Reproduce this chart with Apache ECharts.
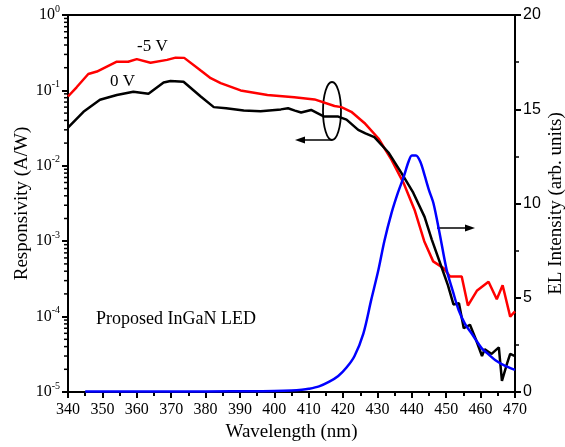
<!DOCTYPE html>
<html>
<head>
<meta charset="utf-8">
<script src="https://cdn.jsdelivr.net/npm/echarts@6/dist/echarts.min.js"></script>
<style>
html,body{margin:0;padding:0;background:#fff;}
#chart{width:565px;height:447px;}
</style>
</head>
<body>
<div id="chart"></div>
<script>
// wavelength (nm) / responsivity (A/W), 0 V bias
var wl0 = [340, 344.5, 349.3, 354.2, 359, 363.4, 367.8, 369.8, 373.6, 378.6, 382.4, 386, 391.1, 396, 401.9, 404, 406, 407.8, 410.7, 414.5, 418.6, 421, 424.4, 426.5, 429.1, 433.2, 437, 440.4, 443.7, 445.8, 449.6, 450.5, 452.1, 453.7, 455.1, 456.9, 458.6, 460.4, 461.2, 463.2, 465.3, 466.2, 467.7, 468.6, 470];
var resp0 = [0.032, 0.052, 0.075, 0.087, 0.096, 0.09, 0.127, 0.133, 0.13, 0.083, 0.06, 0.058, 0.054, 0.053, 0.056, 0.058, 0.054, 0.051, 0.055, 0.045, 0.045, 0.041, 0.030, 0.027, 0.024, 0.015, 0.008, 0.0044, 0.0021, 0.00105, 0.00034, 0.00026, 0.000145, 0.00015, 0.00007, 0.000078, 0.00005, 0.00003, 0.000037, 0.000032, 0.000039, 0.000014, 0.000024, 0.000032, 0.00003];

// -5 V bias
var wl5 = [340, 342.5, 345.9, 348.4, 354.2, 357.5, 360, 364, 368.8, 371.3, 373.8, 378.6, 381.5, 384.4, 390.2, 398, 405.8, 411.7, 417.5, 419.5, 422.4, 426.2, 430.3, 434.1, 437.6, 440.8, 443.6, 446.2, 449.2, 451.1, 454.5, 456.3, 458.9, 462.3, 464.7, 466.4, 468.6, 470];
var resp5 = [0.083, 0.11, 0.165, 0.178, 0.24, 0.24, 0.26, 0.233, 0.254, 0.272, 0.27, 0.183, 0.145, 0.125, 0.1, 0.087, 0.081, 0.076, 0.062, 0.06, 0.052, 0.037, 0.023, 0.012, 0.0059, 0.0026, 0.001, 0.00054, 0.00044, 0.00034, 0.00034, 0.00014, 0.00022, 0.00029, 0.00017, 0.00026, 0.0001, 0.000117];

// EL spectrum (arb. units)
var wlEL = [345, 360, 380, 395, 400, 405, 408, 410, 413, 416, 418.6, 421, 423.3, 425.9, 428.2, 430.3, 432, 434.1, 436, 437.6, 439, 440, 441.2, 442.5, 443.7, 445, 446.3, 448.1, 450.1, 452, 453.6, 455.5, 457.4, 460.4, 462.3, 464.2, 467, 470];
var el = [0.03, 0.03, 0.03, 0.04, 0.05, 0.08, 0.12, 0.17, 0.3, 0.55, 0.85, 1.3, 1.9, 3.1, 4.9, 6.5, 8.0, 9.5, 10.6, 11.4, 12.2, 12.55, 12.55, 12.2, 11.5, 10.7, 10.0, 8.4, 6.5, 5.3, 4.35, 3.6, 3.1, 2.3, 2.0, 1.7, 1.4, 1.17];

var logTicks = [1e-5, 1e-4, 1e-3, 1e-2, 1e-1, 1];

function pairs(xs, ys){
	var out = [];
	for(var i=0;i<xs.length;i++){ out.push([xs[i], ys[i]]); }
	return out;
}

var serif = 'Liberation Serif';
var chart = echarts.init(document.getElementById('chart'));

var option = {
	animation: false,
	backgroundColor: '#fff',
	grid: { left: 68, right: 50, top: 15, bottom: 55, containLabel: false, outerBoundsMode: 'none',
		show: true, borderColor: '#000', borderWidth: 2, backgroundColor: 'transparent' },
	xAxis: [{
		type: 'value', min: 340, max: 470, interval: 10,
		name: 'Wavelength (nm)', nameLocation: 'middle', nameGap: 31, nameMoveOverlap: false,
		nameTextStyle: { fontFamily: serif, fontSize: 19, color: '#000' },
		axisLine: { lineStyle: { color: '#000', width: 2 } },
		axisTick: { length: 6, lineStyle: { color: '#000', width: 2 } },
		minorTick: { show: true, splitNumber: 2, length: 4, lineStyle: { color: '#000', width: 2 } },
		axisLabel: { fontFamily: serif, fontSize: 16, color: '#000', margin: 10 },
		splitLine: { show: false }
	}],
	yAxis: [{
		type: 'log', logBase: 10, min: 1e-5, max: 1,
		name: 'Responsivity (A/W)', nameLocation: 'middle', nameGap: 36, nameRotate: 90, nameMoveOverlap: false,
		nameTextStyle: { fontFamily: serif, fontSize: 19, color: '#000' },
		axisLine: { lineStyle: { color: '#000', width: 2 } },
		axisTick: { length: 6, lineStyle: { color: '#000', width: 2 } },
		axisLabel: {
			margin: 8,
			formatter: function(v){
				var e = Math.round(Math.log10(v));
				return '{b|10}{s|' + e + '}';
			},
			rich: {
				b: { fontFamily: serif, fontSize: 16, color: '#000' },
				s: { fontFamily: serif, fontSize: 10, color: '#000', padding: [0, 0, 12, 0] }
			}
		},
		splitLine: { show: false }
	}, {
		type: 'value', min: 0, max: 20, interval: 5, position: 'right',
		name: 'EL Intensity (arb. units)', nameLocation: 'middle', nameGap: 32, nameRotate: 90, nameMoveOverlap: false,
		nameTextStyle: { fontFamily: serif, fontSize: 19, color: '#000' },
		axisLine: { lineStyle: { color: '#000', width: 2 } },
		axisTick: { length: 6, lineStyle: { color: '#000', width: 2 } },
		minorTick: { show: true, splitNumber: 2, length: 4, lineStyle: { color: '#000', width: 1.5 } },
		axisLabel: { fontFamily: 'Liberation Sans', fontSize: 16, color: '#000', margin: 8 },
		splitLine: { show: false }
	}],
	series: [{
		name: '-5 V', type: 'line', yAxisIndex: 0, showSymbol: false,
		data: pairs(wl5, resp5),
		lineStyle: { color: '#ff0000', width: 2.5 }
	}, {
		name: '0 V', type: 'line', yAxisIndex: 0, showSymbol: false,
		data: pairs(wl0, resp0),
		lineStyle: { color: '#000000', width: 2.5 }
	}, {
		name: 'EL', type: 'line', yAxisIndex: 1, showSymbol: false, smooth: 0.3,
		data: pairs(wlEL, el),
		lineStyle: { color: '#0000ff', width: 2.5 }
	}]
};
chart.setOption(option);

// log minor ticks (2..9 per decade) plus annotations
var gfx = [];
for(var d=0; d<logTicks.length-1; d++){
	for(var k=2;k<=9;k++){
		var y = chart.convertToPixel({yAxisIndex:0}, logTicks[d]*k);
		gfx.push({ type:'line', shape:{x1:64, y1:y, x2:68, y2:y}, style:{stroke:'#000', lineWidth:1.5} });
	}
}
gfx.push({ type:'text', left:137, top:38, style:{ text:'-5 V', fill:'#000', font:'17px "Liberation Serif"' } });
gfx.push({ type:'text', left:110, top:73, style:{ text:'0 V', fill:'#000', font:'17px "Liberation Serif"' } });
gfx.push({ type:'text', left:96, top:310, style:{ text:'Proposed InGaN LED', fill:'#000', font:'18px "Liberation Serif"' } });
gfx.push({ type:'ellipse', shape:{cx:332, cy:111, rx:9, ry:29}, style:{ fill:'none', stroke:'#000', lineWidth:1.8 } });
gfx.push({ type:'line', shape:{x1:332, y1:140, x2:302, y2:140}, style:{ stroke:'#000', lineWidth:1.5 } });
gfx.push({ type:'polygon', shape:{points:[[295,140],[305,136.5],[305,143.5]]}, style:{ fill:'#000' } });
gfx.push({ type:'line', shape:{x1:437, y1:228, x2:468, y2:228}, style:{ stroke:'#000', lineWidth:1.5 } });
gfx.push({ type:'polygon', shape:{points:[[475,228],[465,224.5],[465,231.5]]}, style:{ fill:'#000' } });
chart.setOption({ graphic: gfx });
</script>
</body>
</html>
